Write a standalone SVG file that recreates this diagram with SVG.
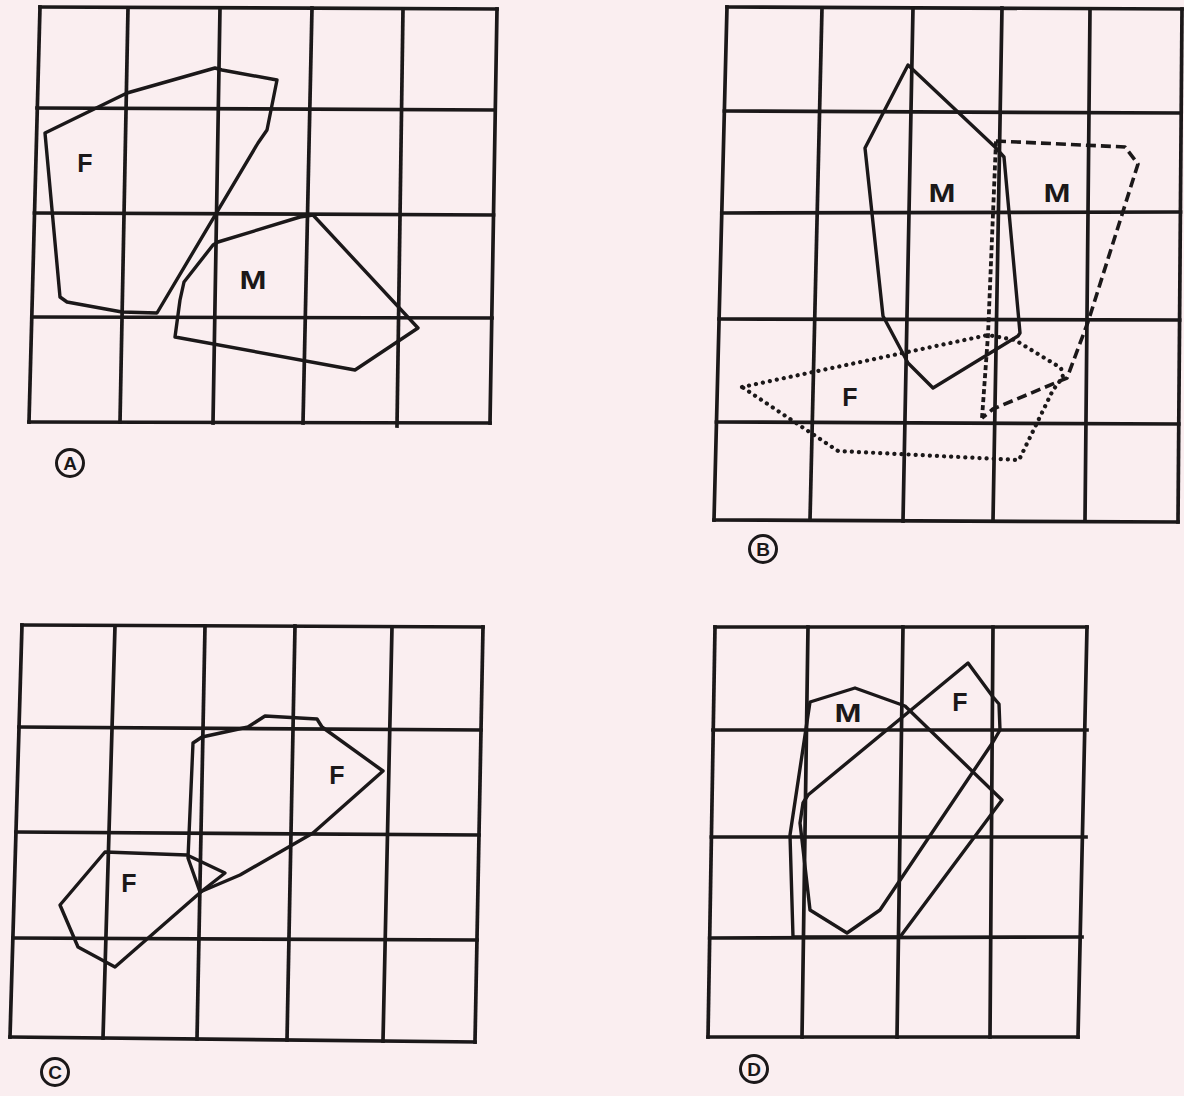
<svg xmlns="http://www.w3.org/2000/svg" width="1184" height="1096" viewBox="0 0 1184 1096">
<style>
.bg{fill:#faeef0}
.grid line{stroke:#1b1819;stroke-width:3.7;stroke-linecap:square}
.shape{fill:none;stroke:#1b1819;stroke-width:3.4;stroke-linejoin:round}
.dashed{stroke-dasharray:10 5;stroke-width:3.6}
.dashfine{fill:none;stroke:#1b1819;stroke-width:3.8;stroke-dasharray:5 3}
.dotted{stroke-dasharray:0.1 7;stroke-linecap:round;stroke-width:4.2}
.lbl{font-family:"Liberation Sans",Arial,sans-serif;font-weight:bold;font-size:25px;fill:#1b1819;text-anchor:middle}
.cap circle{fill:none;stroke:#1b1819;stroke-width:3}
.cap text{font-family:"Liberation Sans",Arial,sans-serif;font-weight:bold;font-size:19px;fill:#1b1819;text-anchor:middle}
</style>
<rect class="bg" x="0" y="0" width="1184" height="1096"/>

<!-- Panel A -->
<g id="panelA">
  <g class="grid">
    <line x1="40" y1="7" x2="497" y2="9"/>
    <line x1="37" y1="108" x2="495" y2="110"/>
    <line x1="34.5" y1="213" x2="493.5" y2="215"/>
    <line x1="32" y1="317" x2="492" y2="318"/>
    <line x1="29" y1="422" x2="490" y2="423"/>
    <line x1="40" y1="7" x2="29" y2="422"/>
    <line x1="128" y1="8" x2="120" y2="422"/>
    <line x1="220" y1="8" x2="213" y2="423"/>
    <line x1="312" y1="8" x2="303" y2="423"/>
    <line x1="403" y1="9" x2="397" y2="426"/>
    <line x1="497" y1="9" x2="490" y2="423"/>
  </g>
  <g id="A-F">
    <polygon class="shape" points="45,133 127,93 215,68 222,70 277,80 267,130 258,143 157,313 122,312 67,302 60,297"/>
    <text class="lbl" x="85" y="172">F</text>
  </g>
  <g id="A-M">
    <polygon class="shape" points="218,242 300,217 313,215 418,328 355,370 175,337 180,300 184,282 213,245"/>
    <text class="lbl" x="253" y="289" textLength="27" lengthAdjust="spacingAndGlyphs">M</text>
  </g>
  <g id="capA" class="cap"><circle cx="70" cy="463" r="13.5"/><text x="70" y="470">A</text></g>
</g>

<!-- Panel B -->
<g id="panelB">
  <g class="grid">
    <line x1="727" y1="7" x2="1182" y2="9"/>
    <line x1="724.4" y1="111" x2="1181" y2="113"/>
    <line x1="721.8" y1="213" x2="1180.5" y2="212"/>
    <line x1="719" y1="319" x2="1179.6" y2="320"/>
    <line x1="716.5" y1="422" x2="1178.8" y2="424"/>
    <line x1="714" y1="520" x2="1178" y2="522"/>
    <line x1="727" y1="7" x2="714" y2="520"/>
    <line x1="822" y1="8" x2="810" y2="520"/>
    <line x1="913" y1="8" x2="903" y2="521"/>
    <line x1="1002" y1="8" x2="993" y2="521"/>
    <line x1="1090" y1="9" x2="1085" y2="521"/>
    <line x1="1182" y1="9" x2="1178" y2="522"/>
  </g>
  <g id="B-M-solid">
    <polygon class="shape" points="908,65 995,147 1004,157 1020,333 1018,336 933,388 908,363 883,316 865,148"/>
    <text class="lbl" x="942" y="202" textLength="27" lengthAdjust="spacingAndGlyphs">M</text>
  </g>
  <g id="B-M-dashed">
    <polyline class="shape dashed" points="996,141 1125,147 1138,164 1088,322 1067,378 993,409 982,418"/>
    <polyline class="dashfine" points="982,418 988,335 996,141"/>
    <text class="lbl" x="1057" y="202" textLength="27" lengthAdjust="spacingAndGlyphs">M</text>
  </g>
  <g id="B-F-dotted">
    <polygon class="shape dotted" points="742,387 988,335 1015,340 1061,368 1063,377 1053,390 1019,460 838,451"/>
    <text class="lbl" x="850" y="406">F</text>
  </g>
  <g id="capB" class="cap"><circle cx="763" cy="549" r="13.5"/><text x="763" y="556">B</text></g>
</g>

<!-- Panel C -->
<g id="panelC">
  <g class="grid">
    <line x1="22" y1="625" x2="483" y2="627"/>
    <line x1="19" y1="727" x2="481" y2="730"/>
    <line x1="16" y1="832" x2="479" y2="835"/>
    <line x1="13" y1="938" x2="477" y2="940"/>
    <line x1="10" y1="1037" x2="475" y2="1042"/>
    <line x1="22" y1="625" x2="10" y2="1037"/>
    <line x1="115" y1="626" x2="103" y2="1038"/>
    <line x1="205" y1="626" x2="197" y2="1039"/>
    <line x1="295" y1="626" x2="287" y2="1040"/>
    <line x1="392" y1="627" x2="383" y2="1041"/>
    <line x1="483" y1="627" x2="475" y2="1042"/>
  </g>
  <g id="C-F-large">
    <polygon class="shape" points="193,743 202,737 248,727 265,716 317,719 322,727 383,771 313,833 240,875 200,892 188,858"/>
    <text class="lbl" x="337" y="784">F</text>
  </g>
  <g id="C-F-small">
    <polygon class="shape" points="105,852 187,855 225,873 202,891 115,967 78,947 60,905"/>
    <text class="lbl" x="129" y="892">F</text>
  </g>
  <g id="capC" class="cap"><circle cx="55" cy="1072" r="13.5"/><text x="55" y="1079">C</text></g>
</g>

<!-- Panel D -->
<g id="panelD">
  <g class="grid">
    <line x1="715" y1="627" x2="1087" y2="627"/>
    <line x1="713" y1="730" x2="1087" y2="730"/>
    <line x1="711.4" y1="837" x2="1086" y2="837"/>
    <line x1="709.7" y1="938" x2="1082" y2="937"/>
    <line x1="708" y1="1037" x2="1078" y2="1037"/>
    <line x1="715" y1="627" x2="708" y2="1037"/>
    <line x1="808" y1="627" x2="802" y2="1037"/>
    <line x1="903" y1="627" x2="897" y2="1037"/>
    <line x1="993" y1="627" x2="990" y2="1037"/>
    <line x1="1087" y1="627" x2="1078" y2="1037"/>
  </g>
  <g id="D-M">
    <polygon class="shape" points="810,702 855,688 905,706 1002,800 996,808 900,937 793,937 790,835"/>
    <text class="lbl" x="848" y="722" textLength="27" lengthAdjust="spacingAndGlyphs">M</text>
  </g>
  <g id="D-F">
    <polygon class="shape" points="968,663 993,697 999,704 1000,730 993,742 880,910 847,933 810,910 802,840 800,823 803,803 808,795"/>
    <text class="lbl" x="960" y="711">F</text>
  </g>
  <g id="capD" class="cap"><circle cx="754" cy="1069" r="13.5"/><text x="754" y="1076">D</text></g>
</g>
</svg>
